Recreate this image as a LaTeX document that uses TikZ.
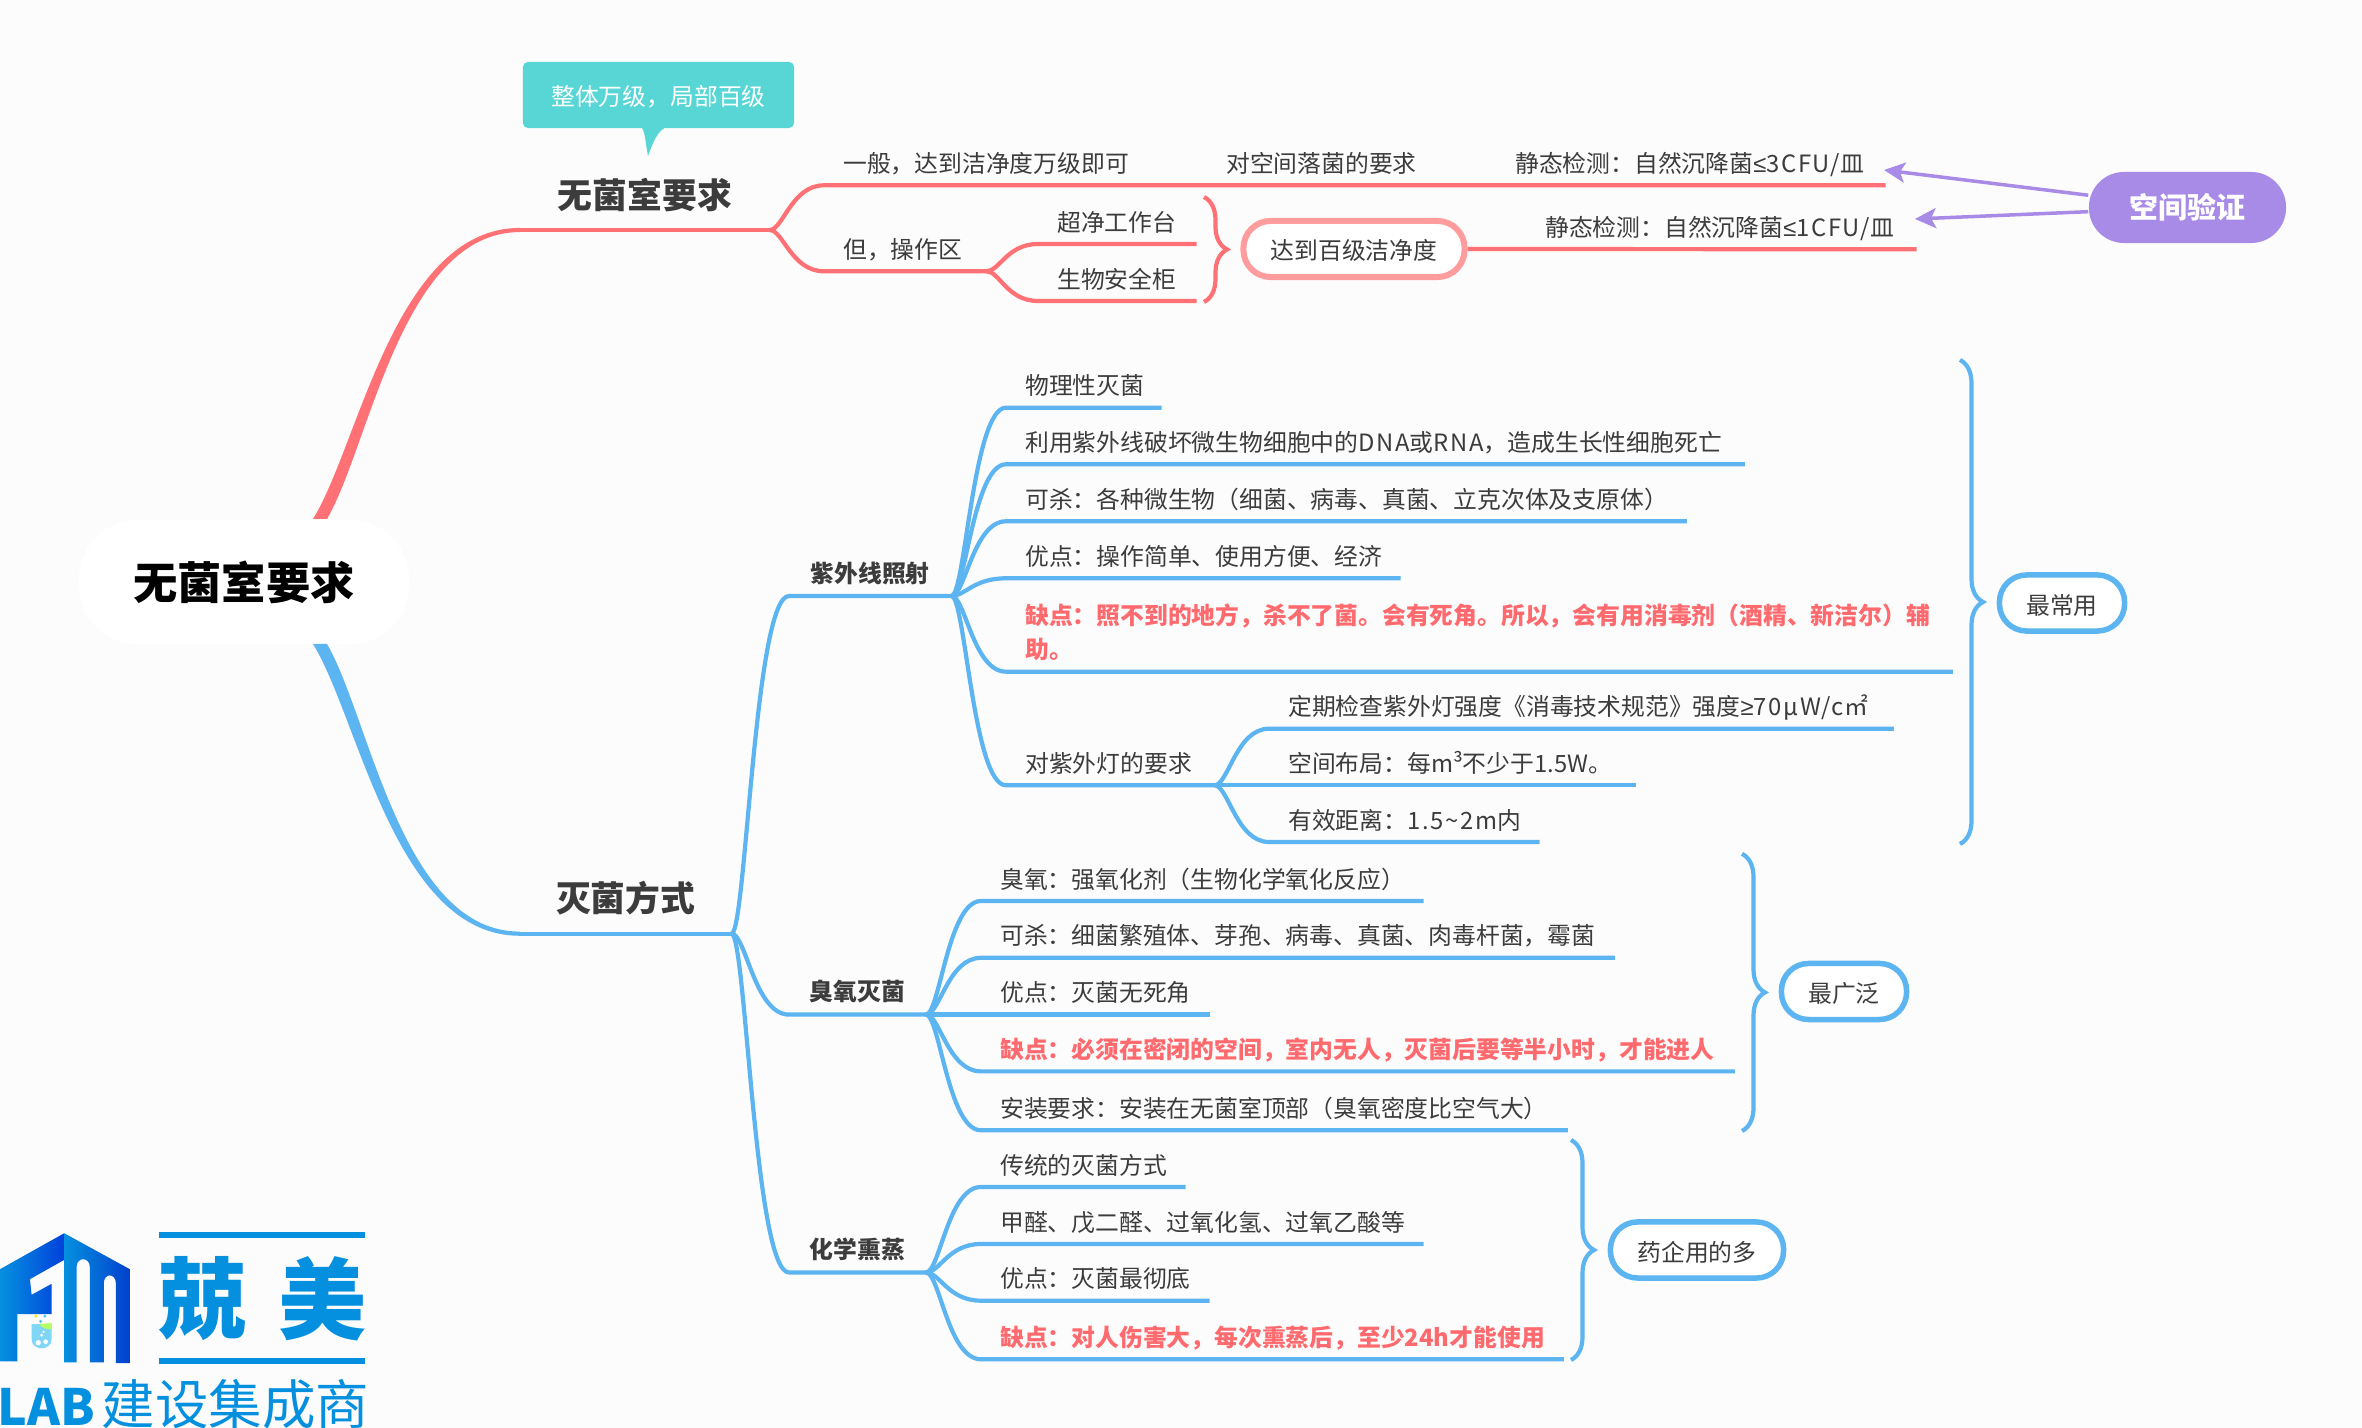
\documentclass[tikz,border=0pt]{standalone}
\usepackage{fontspec}
\setmainfont{Noto Sans CJK SC}
\newfontfamily\symbfont{Liberation Sans}
\usetikzlibrary{calc,arrows.meta,decorations.pathreplacing}

\definecolor{pagecol}{HTML}{FCFCFC}
\definecolor{inkcol}{HTML}{3C3C3C}
\definecolor{redcol}{HTML}{FF7175}
\definecolor{paleredcol}{HTML}{FF9C9E}
\definecolor{warncol}{HTML}{FF6A6E}
\definecolor{bluecol}{HTML}{5CB5F1}
\definecolor{notecol}{HTML}{58D6D6}
\definecolor{purplecol}{HTML}{A88BE6}
\definecolor{logocol}{HTML}{0590DF}

\newcommand{\leaffont}{\fontsize{6.77pt}{9.85pt}\selectfont}
\newcommand{\bigfont}{\fontsize{9.9pt}{12pt}\selectfont\bfseries}
\newcommand{\rootfont}{\fontsize{12.6pt}{15pt}\selectfont\bfseries}
\newcommand{\wideword}[1]{{\addfontfeature{LetterSpace=7}#1}}

\tikzset{
	leaf/.style={anchor=south west, inner xsep=0.185cm, inner ysep=0pt, text depth=0.122cm, text width=#1, align=left, text=inkcol, font=\leaffont},
	warnleaf/.style={leaf=#1, text=warncol, font=\leaffont\bfseries},
	midtopic/.style={anchor=south west, inner sep=0pt, text depth=0.13cm, minimum width=#1, text=inkcol, font=\leaffont\bfseries},
	bigtopic/.style={anchor=south west, inner sep=0pt, text depth=0.21cm, minimum width=#1, text=inkcol, font=\bigfont},
	pill/.style={draw=bluecol, line width=0.055cm, fill=white, rounded corners=0.27cm, inner sep=0pt, minimum height=0.56cm, text height=0.28cm, text depth=0.06cm, minimum width=#1, text=inkcol, font=\leaffont},
	redline/.style={draw=redcol, line width=0.042cm},
	blueline/.style={draw=bluecol, line width=0.042cm},
	bracered/.style={redline, decorate, decoration={brace, amplitude=0.23cm}},
	braceblue/.style={blueline, decorate, decoration={brace, amplitude=0.23cm}},
	linkarrow/.style={draw=purplecol, line width=0.035cm, -{Stealth[length=0.21cm, width=0.2cm, inset=0.05cm]}},
	branch/.style={to path={.. controls ($(\tikztostart)!0.25!(\tikztotarget|-\tikztostart)$) and ($(\tikztotarget)!0.6!(\tikztostart|-\tikztotarget)$) .. (\tikztotarget)}}
}

\begin{document}
\begin{tikzpicture}[x=0.01cm, y=-0.01cm]
	\useasboundingbox (0,0) rectangle (2362,1428);
	\fill[pagecol] (0,0) rectangle (2362,1428);

	% centre and first level
	\node[fill=white, rounded corners=0.6cm, inner sep=0pt, minimum width=3.3cm, minimum height=1.25cm, text=black, font=\rootfont] (root) at (244,582) {无菌室要求};
	\coordinate (rootup) at (320,519);
	\coordinate (rootdown) at (320,644);
	\node[bigtopic=2.48cm] (sterile) at (520,230) {无菌室要求};
	\node[bigtopic=2.10cm] (kill) at (520,933.7) {灭菌方式};

	\fill[redcol] ([xshift=-0.07cm]rootup) .. controls (359,445) and (395,228) .. ([yshift=0.021cm]sterile.south west) -- ([yshift=-0.021cm]sterile.south west) .. controls (402,232) and (370,445) .. ([xshift=0.07cm]rootup) -- cycle;
	\fill[bluecol] ([xshift=-0.07cm]rootdown) .. controls (359,718) and (395,936) .. ([yshift=-0.021cm]kill.south west) -- ([yshift=0.021cm]kill.south west) .. controls (402,932) and (370,718) .. ([xshift=0.07cm]rootdown) -- cycle;
	\draw[redline] (sterile.south west) -- (sterile.south east);
	\draw[blueline] (kill.south west) -- (kill.south east);

	% callout
	\node[fill=notecol, rounded corners=0.05cm, inner sep=0pt, minimum width=2.71cm, minimum height=0.66cm, text height=0.28cm, text depth=0.06cm, text=white, font=\leaffont] (note) at (658.5,95) {整体万级，局部百级};
	\coordinate (notetip) at (648,156);
	\fill[notecol] (641,127) .. controls (645,130) and (645,140) .. (notetip) .. controls (652,145) and (658,128) .. (668,127) -- cycle;

	% red branch
	\node[leaf=3.46cm] (general) at (824,185.3) {一般，达到洁净度万级即可};
	\node[leaf=2.52cm] (spacereq) at (1207,185.3) {对空间落菌的要求};
	\node[leaf=3.51cm] (staticA) at (1496,185.3) {静态检测：自然沉降菌\wideword{{\symbfont ≤}3CFU/}皿};
	\node[leaf=1.24cm] (zone) at (824,271.3) {但，操作区};
	\node[leaf=1.20cm] (bench) at (1038,244) {超净工作台};
	\node[leaf=1.20cm] (cabinet) at (1038,301) {生物安全柜};
	\coordinate (braceAtop) at (1204,197);
	\coordinate (braceAbot) at (1204,302);
	\node[pill=2.21cm, draw=paleredcol, line width=0.06cm] (grade) at (1354,249) {达到百级洁净度};
	\node[leaf=3.52cm] (staticB) at (1526,249.3) {静态检测：自然沉降菌\wideword{{\symbfont ≤}1CFU/}皿};

	\draw[redline] (sterile.south east) to[branch] (general.south west) -- (general.south east) -- (spacereq.south east) -- (staticA.south east);
	\draw[redline] (sterile.south east) to[branch] (zone.south west) -- (zone.south east);
	\draw[redline] (zone.south east) to[branch] (bench.south west) -- (bench.south east);
	\draw[redline] (zone.south east) to[branch] (cabinet.south west) -- (cabinet.south east);
	\draw[redline] (grade.east) -- (staticB.south east);
	\draw[bracered] (braceAtop) -- (braceAbot);

	\node[fill=purplecol, rounded corners=0.35cm, inner sep=0pt, minimum width=1.97cm, minimum height=0.71cm, text=white, font=\fontsize{8.25pt}{10pt}\selectfont\bfseries] (verify) at (2187.5,207.5) {空间验证};
	\coordinate (tipA) at (1884,170);
	\coordinate (tipB) at (1915,219);
	\draw[linkarrow] (verify) -- (tipA);
	\draw[linkarrow] (verify) -- (tipB);

	% ultraviolet
	\node[midtopic=1.61cm] (uv) at (789,596) {紫外线照射};
	\node[leaf=1.17cm] (uvA) at (1006,407.7) {物理性灭菌};
	\node[leaf=7.00cm] (uvB) at (1006,464.3) {利用紫外线破坏微生物细胞中的\wideword{DNA}或\wideword{RNA}，造成生长性细胞死亡};
	\node[leaf=6.42cm] (uvC) at (1006,521.3) {可杀：各种微生物（细菌、病毒、真菌、立克次体及支原体）};
	\node[leaf=3.56cm] (uvD) at (1006,578.3) {优点：操作简单、使用方便、经济};
	\node[warnleaf=9.08cm, text depth=0.468cm] (uvE) at (1006,671.7) {缺点：照不到的地方，杀不了菌。会有死角。所以，会有用消毒剂（酒精、新洁尔）辅\\助。};
	\node[leaf=1.70cm] (uvF) at (1006,785.3) {对紫外灯的要求};
	\node[leaf=5.86cm] (lampA) at (1269,728.7) {定期检查紫外灯强度《消毒技术规范》强度\wideword{{\symbfont ≥}70μW/c}㎡};
	\node[leaf=3.28cm] (lampB) at (1269,785.3) {空间布局：每m³不少于1.5W。};
	\node[leaf=2.32cm] (lampC) at (1269,842) {有效距离：\wideword{1.5\textasciitilde 2m}内};
	\coordinate (braceBtop) at (1960,360);
	\coordinate (braceBbot) at (1960,844);
	\node[pill=1.25cm] (common) at (2062,603) {最常用};

	\draw[blueline] (kill.south east) to[branch] (uv.south west) -- (uv.south east);
	\draw[blueline] (uv.south east) to[branch] (uvA.south west) -- (uvA.south east);
	\draw[blueline] (uv.south east) to[branch] (uvB.south west) -- (uvB.south east);
	\draw[blueline] (uv.south east) to[branch] (uvC.south west) -- (uvC.south east);
	\draw[blueline] (uv.south east) to[branch] (uvD.south west) -- (uvD.south east);
	\draw[blueline] (uv.south east) to[branch] (uvE.south west) -- (uvE.south east);
	\draw[blueline] (uv.south east) to[branch] (uvF.south west) -- (uvF.south east);
	\draw[blueline] (uvF.south east) to[branch] (lampA.south west) -- (lampA.south east);
	\draw[blueline] (uvF.south east) -- (lampB.south east);
	\draw[blueline] (uvF.south east) to[branch] (lampC.south west) -- (lampC.south east);
	\draw[braceblue] (braceBtop) -- (braceBbot);

	% ozone
	\node[midtopic=1.355cm] (ozone) at (789,1014.6) {臭氧灭菌};
	\node[leaf=4.04cm] (ozA) at (981,901) {臭氧：强氧化剂（生物化学氧化反应）};
	\node[leaf=5.95cm] (ozB) at (981,957.8) {可杀：细菌繁殖体、芽孢、病毒、真菌、肉毒杆菌，霉菌};
	\node[leaf=1.90cm] (ozC) at (981,1014.6) {优点：灭菌无死角};
	\node[warnleaf=7.15cm] (ozD) at (981,1071.4) {缺点：必须在密闭的空间，室内无人，灭菌后要等半小时，才能进人};
	\node[leaf=5.48cm] (ozE) at (981,1130.3) {安装要求：安装在无菌室顶部（臭氧密度比空气大）};
	\coordinate (braceCtop) at (1742,853.8);
	\coordinate (braceCbot) at (1742,1131);
	\node[pill=1.25cm] (widest) at (1844,991.5) {最广泛};

	\draw[blueline] (kill.south east) to[branch] (ozone.south west) -- (ozone.south east);
	\draw[blueline] (ozone.south east) to[branch] (ozA.south west) -- (ozA.south east);
	\draw[blueline] (ozone.south east) to[branch] (ozB.south west) -- (ozB.south east);
	\draw[blueline] (ozone.south east) -- (ozC.south east);
	\draw[blueline] (ozone.south east) to[branch] (ozD.south west) -- (ozD.south east);
	\draw[blueline] (ozone.south east) to[branch] (ozE.south west) -- (ozE.south east);
	\draw[braceblue] (braceCtop) -- (braceCbot);

	% fumigation
	\node[midtopic=1.355cm] (fume) at (789,1272.5) {化学熏蒸};
	\node[leaf=1.66cm] (fumeA) at (981,1187) {传统的灭菌方式};
	\node[leaf=4.04cm] (fumeB) at (981,1244) {甲醛、戊二醛、过氧化氢、过氧乙酸等};
	\node[leaf=1.90cm] (fumeC) at (981,1300.7) {优点：灭菌最彻底};
	\node[warnleaf=5.44cm] (fumeD) at (981,1359.3) {缺点：对人伤害大，每次熏蒸后，至少24h才能使用};
	\coordinate (braceDtop) at (1571,1140);
	\coordinate (braceDbot) at (1571,1360);
	\node[pill=1.73cm] (pharma) at (1697,1250) {药企用的多};

	\draw[blueline] (kill.south east) to[branch] (fume.south west) -- (fume.south east);
	\draw[blueline] (fume.south east) to[branch] (fumeA.south west) -- (fumeA.south east);
	\draw[blueline] (fume.south east) to[branch] (fumeB.south west) -- (fumeB.south east);
	\draw[blueline] (fume.south east) to[branch] (fumeC.south west) -- (fumeC.south east);
	\draw[blueline] (fume.south east) to[branch] (fumeD.south west) -- (fumeD.south east);
	\draw[braceblue] (braceDtop) -- (braceDbot);

	% logo
	\begin{scope}[shift={(0,1180)}, x=0.003333cm, y=-0.003333cm]
		\shade[left color=logocol, right color=black!15!blue!55!logocol] (0,268) -- (193,160) -- (193,240) -- (90,298) -- (95,345) -- (155,312) -- (155,403) -- (52,403) -- (52,545) -- (0,545) -- cycle;
		\shade[left color=logocol, right color=black!25!blue!55!logocol] (193,160) -- (390,268) -- (390,550) -- (348,550) -- (348,310) .. controls (348,279) and (312,279) .. (312,310) -- (312,548) -- (270,548) -- (270,262) .. controls (270,230) and (230,230) .. (230,262) -- (230,548) -- (193,548) -- cycle;
		\fill[cyan!50!white] (95,433) -- (155,433) -- (155,478) .. controls (155,515) and (95,515) .. (95,478) -- cycle;
		\fill[lime!70!green!60!white] (118,433) -- (155,429) -- (155,449) .. controls (140,449) and (125,445) .. (118,433) -- cycle;
		\fill[yellow!80!lime] (108,409) circle [radius=5];
		\fill[cyan!70!white] (135,409) circle [radius=5];
		\fill[cyan!70!white] (122,425) circle [radius=5];
		\fill[white] (115,489) circle [radius=8];
		\fill[white] (137,486) circle [radius=7];
		\fill[white] (125,466) circle [radius=5];
		\fill[white] (131,456) circle [radius=4];
	\end{scope}
	\fill[logocol] (159,1232) rectangle (365,1238);
	\fill[logocol] (159,1358) rectangle (365,1364);
	\node[inner sep=0pt, text=logocol, font=\fontsize{25pt}{30pt}\selectfont\bfseries] (logoA) at (202,1299) {兢};
	\node[inner sep=0pt, text=logocol, font=\fontsize{25pt}{30pt}\selectfont\bfseries] (logoB) at (322,1299) {美};
	\node[inner sep=0pt, anchor=base west, text=logocol, font=\fontsize{14.2pt}{16pt}\selectfont\bfseries] (logoC) at (-3,1426) {LAB};
	\node[inner sep=0pt, anchor=base west, text=logocol, font=\fontsize{15.2pt}{16pt}\selectfont] (logoD) at (101,1425) {建设集成商};
\end{tikzpicture}
\end{document}
